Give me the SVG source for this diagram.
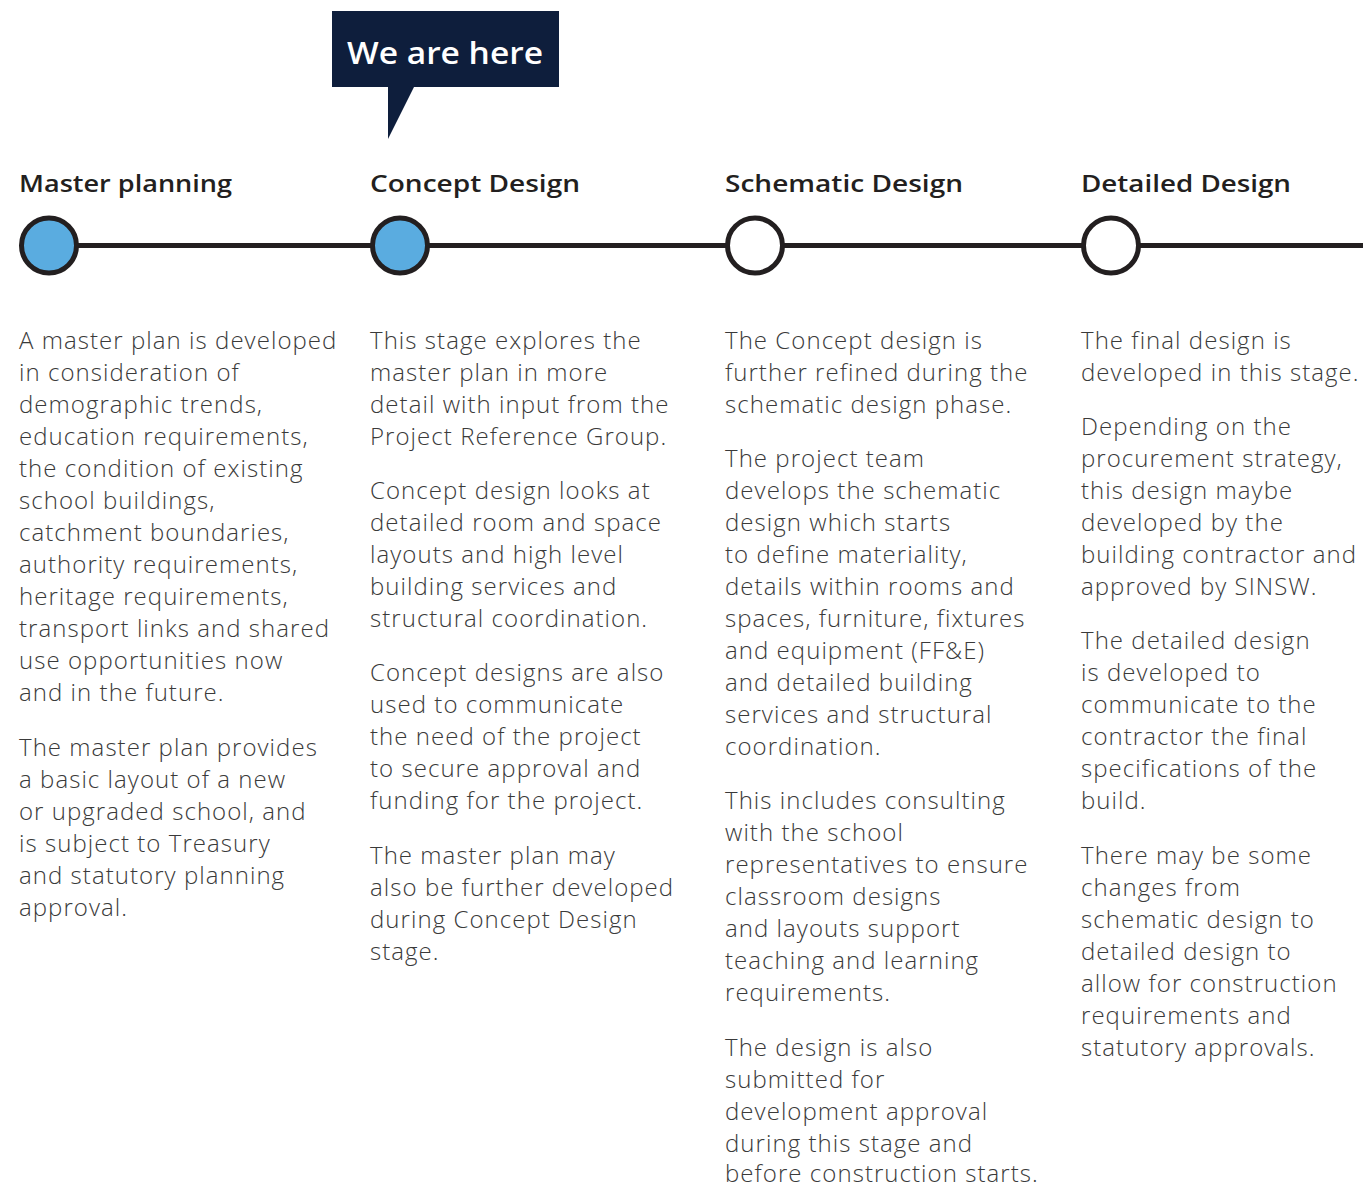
<svg xmlns="http://www.w3.org/2000/svg" width="1363" height="1187" viewBox="0 0 1363 1187">
<style>
.h{font-family:"Open Sans","Liberation Sans",sans-serif;font-weight:600;font-size:24px;fill:#231f20}
.b{font-family:"Open Sans","Liberation Sans",sans-serif;font-weight:300;font-size:24px;letter-spacing:1.05px;fill:#3a3a3a}
.node-on{fill:#5aace0;stroke:#231f20;stroke-width:5}
.node-off{fill:#ffffff;stroke:#231f20;stroke-width:5}
.line{stroke:#231f20;stroke-width:5;fill:none}
</style>
<rect width="1363" height="1187" fill="#ffffff"/>
<g id="callout">
<path d="M332 11 H559 V87 H414 L388 139 V87 H332 Z" fill="#0e1e3c"/>
<text x="347" y="64" textLength="196" lengthAdjust="spacingAndGlyphs" style="font-family:'Open Sans','Liberation Sans',sans-serif;font-weight:600;font-size:31px;fill:#ffffff">We are here</text>
</g>
<g id="connectors">
<line class="line" x1="49" y1="245.5" x2="1363" y2="245.5"/>
</g>
<g id="node-master-planning">
<circle class="node-on" cx="49" cy="245.5" r="27.5"/>
<text class="h" x="19" y="192" textLength="213" lengthAdjust="spacingAndGlyphs">Master planning</text>
<text class="b" x="19" y="349">
<tspan x="19">A master plan is developed</tspan>
<tspan x="19" dy="32">in consideration of</tspan>
<tspan x="19" dy="32">demographic trends,</tspan>
<tspan x="19" dy="32">education requirements,</tspan>
<tspan x="19" dy="32">the condition of existing</tspan>
<tspan x="19" dy="32">school buildings,</tspan>
<tspan x="19" dy="32">catchment boundaries,</tspan>
<tspan x="19" dy="32">authority requirements,</tspan>
<tspan x="19" dy="32">heritage requirements,</tspan>
<tspan x="19" dy="32">transport links and shared</tspan>
<tspan x="19" dy="32">use opportunities now</tspan>
<tspan x="19" dy="32">and in the future.</tspan>
<tspan x="19" dy="55">The master plan provides</tspan>
<tspan x="19" dy="32">a basic layout of a new</tspan>
<tspan x="19" dy="32">or upgraded school, and</tspan>
<tspan x="19" dy="32">is subject to Treasury</tspan>
<tspan x="19" dy="32">and statutory planning</tspan>
<tspan x="19" dy="32">approval.</tspan>
</text>
</g>
<g id="node-concept-design">
<circle class="node-on" cx="400" cy="245.5" r="27.5"/>
<text class="h" x="370" y="192" textLength="210" lengthAdjust="spacingAndGlyphs">Concept Design</text>
<text class="b" x="370" y="349">
<tspan x="370">This stage explores the</tspan>
<tspan x="370" dy="32">master plan in more</tspan>
<tspan x="370" dy="32">detail with input from the</tspan>
<tspan x="370" dy="32">Project Reference Group.</tspan>
<tspan x="370" dy="54">Concept design looks at</tspan>
<tspan x="370" dy="32">detailed room and space</tspan>
<tspan x="370" dy="32">layouts and high level</tspan>
<tspan x="370" dy="32">building services and</tspan>
<tspan x="370" dy="32">structural coordination.</tspan>
<tspan x="370" dy="54">Concept designs are also</tspan>
<tspan x="370" dy="32">used to communicate</tspan>
<tspan x="370" dy="32">the need of the project</tspan>
<tspan x="370" dy="32">to secure approval and</tspan>
<tspan x="370" dy="32">funding for the project.</tspan>
<tspan x="370" dy="55">The master plan may</tspan>
<tspan x="370" dy="32">also be further developed</tspan>
<tspan x="370" dy="32">during Concept Design</tspan>
<tspan x="370" dy="32">stage.</tspan>
</text>
</g>
<g id="node-schematic-design">
<circle class="node-off" cx="755" cy="245.5" r="27.5"/>
<text class="h" x="725" y="192" textLength="238" lengthAdjust="spacingAndGlyphs">Schematic Design</text>
<text class="b" x="725" y="349">
<tspan x="725">The Concept design is</tspan>
<tspan x="725" dy="32">further refined during the</tspan>
<tspan x="725" dy="32">schematic design phase.</tspan>
<tspan x="725" dy="54">The project team</tspan>
<tspan x="725" dy="32">develops the schematic</tspan>
<tspan x="725" dy="32">design which starts</tspan>
<tspan x="725" dy="32">to define materiality,</tspan>
<tspan x="725" dy="32">details within rooms and</tspan>
<tspan x="725" dy="32">spaces, furniture, fixtures</tspan>
<tspan x="725" dy="32">and equipment (FF&amp;E)</tspan>
<tspan x="725" dy="32">and detailed building</tspan>
<tspan x="725" dy="32">services and structural</tspan>
<tspan x="725" dy="32">coordination.</tspan>
<tspan x="725" dy="54">This includes consulting</tspan>
<tspan x="725" dy="32">with the school</tspan>
<tspan x="725" dy="32">representatives to ensure</tspan>
<tspan x="725" dy="32">classroom designs</tspan>
<tspan x="725" dy="32">and layouts support</tspan>
<tspan x="725" dy="32">teaching and learning</tspan>
<tspan x="725" dy="32">requirements.</tspan>
<tspan x="725" dy="55">The design is also</tspan>
<tspan x="725" dy="32">submitted for</tspan>
<tspan x="725" dy="32">development approval</tspan>
<tspan x="725" dy="32">during this stage and</tspan>
<tspan x="725" dy="30">before construction starts.</tspan>
</text>
</g>
<g id="node-detailed-design">
<circle class="node-off" cx="1111" cy="245.5" r="27.5"/>
<text class="h" x="1081" y="192" textLength="210" lengthAdjust="spacingAndGlyphs">Detailed Design</text>
<text class="b" x="1081" y="349">
<tspan x="1081">The final design is</tspan>
<tspan x="1081" dy="32">developed in this stage.</tspan>
<tspan x="1081" dy="54">Depending on the</tspan>
<tspan x="1081" dy="32">procurement strategy,</tspan>
<tspan x="1081" dy="32">this design maybe</tspan>
<tspan x="1081" dy="32">developed by the</tspan>
<tspan x="1081" dy="32">building contractor and</tspan>
<tspan x="1081" dy="32">approved by SINSW.</tspan>
<tspan x="1081" dy="54">The detailed design</tspan>
<tspan x="1081" dy="32">is developed to</tspan>
<tspan x="1081" dy="32">communicate to the</tspan>
<tspan x="1081" dy="32">contractor the final</tspan>
<tspan x="1081" dy="32">specifications of the</tspan>
<tspan x="1081" dy="32">build.</tspan>
<tspan x="1081" dy="55">There may be some</tspan>
<tspan x="1081" dy="32">changes from</tspan>
<tspan x="1081" dy="32">schematic design to</tspan>
<tspan x="1081" dy="32">detailed design to</tspan>
<tspan x="1081" dy="32">allow for construction</tspan>
<tspan x="1081" dy="32">requirements and</tspan>
<tspan x="1081" dy="32">statutory approvals.</tspan>
</text>
</g>
</svg>
